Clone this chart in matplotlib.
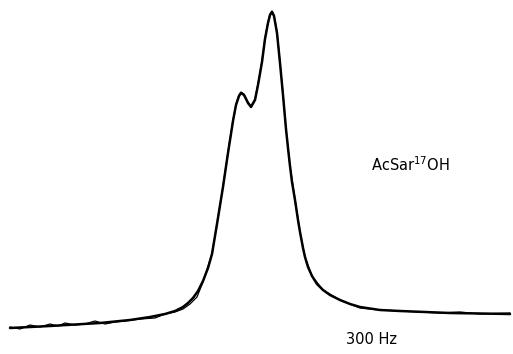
import matplotlib
matplotlib.use("Agg")
import matplotlib.pyplot as plt

# Frequency axis (arbitrary units, left to right) and intensities (arbitrary units)
fit_x = [10, 50, 100, 130, 150, 165, 175, 183, 188, 193, 198, 203, 208, 212, 217, 223, 228,
         233, 236, 239, 241, 244, 248, 251, 255, 258, 262, 265, 268, 270, 272, 274, 277, 280,
         283, 286, 288, 290, 292, 295, 298, 300, 303, 305, 308, 312, 317, 323, 330, 340, 350,
         360, 380, 400, 450, 510]
fit_y = [26, 28, 31, 34, 37, 40, 43, 47, 51, 56, 63, 73, 86, 100, 130, 167, 201,
         233, 249, 258, 261, 259, 251, 247, 254, 269, 292, 315, 331, 339, 342, 338, 321, 291,
         259, 225, 206, 188, 172, 154, 134, 122, 106, 97, 87, 78, 70, 64, 59, 54, 50,
         47, 44, 43, 41, 40]

exp_x = [10, 20, 30, 40, 50, 58, 65, 75, 85, 95, 105, 115, 125, 140, 155, 165, 175, 183,
         190, 197, 203, 212, 217, 223, 228, 233, 236, 239, 241, 244, 248, 251, 255, 258, 262,
         265, 268, 270, 272, 274, 277, 280, 283, 286, 290, 295, 300, 305, 312, 323, 340,
         360, 380, 400, 420, 440, 460, 480, 510]
exp_y = [27, 25, 29, 27, 30, 28, 31, 29, 30, 33, 30, 32, 33, 35, 36, 40, 42, 45,
         50, 57, 72, 100, 130, 168, 202, 234, 250, 259, 262, 260, 252, 248, 255, 270, 293,
         316, 332, 340, 343, 339, 322, 292, 260, 225, 188, 155, 122, 97, 78, 64, 54,
         46, 44, 43, 42, 41, 42, 40, 41]

label_compound = "AcSar$^{17}$OH"
label_scale = "300 Hz"

fig = plt.figure(figsize=(5.13, 3.54), dpi=100)
ax = fig.add_axes([0, 0, 1, 1])
ax.plot(exp_x, exp_y, color="black", lw=0.9, solid_joinstyle="round")
ax.plot(fit_x, fit_y, color="black", lw=1.8, solid_joinstyle="round", solid_capstyle="round")
ax.set_xlim(0, 513)
ax.set_ylim(0, 354)
ax.axis("off")
ax.text(371, 189, label_compound, fontsize=10.5, ha="left", va="center", family="DejaVu Sans")
ax.text(372, 14, label_scale, fontsize=10.5, ha="center", va="center", family="DejaVu Sans")
fig.savefig("out.png", dpi=100, facecolor="white")
